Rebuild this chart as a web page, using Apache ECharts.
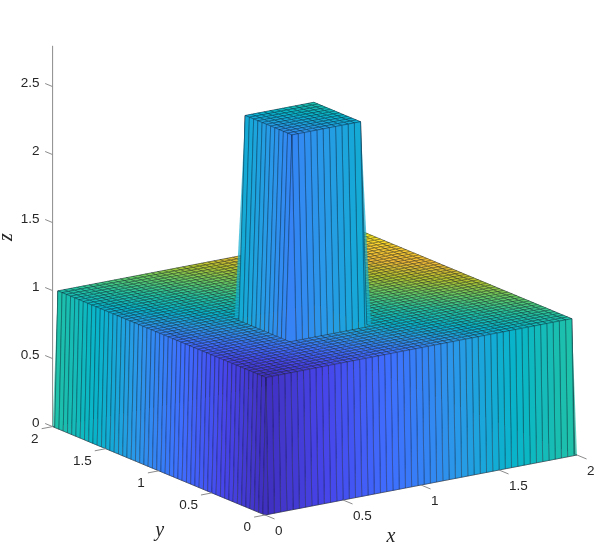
<!DOCTYPE html>
<html>
<head>
<meta charset="utf-8">
<title>surface</title>
<script src="https://cdn.jsdelivr.net/npm/echarts@6/dist/echarts.min.js"></script>
<style>
  html, body { margin: 0; padding: 0; background: #fff; }
  #main { width: 598px; height: 545px; }
</style>
</head>
<body>
<div id="main"></div>
<script>
// mesh nodes, same along x and y
var xNodes = [0, 0.02, 0.06, 0.1, 0.14, 0.18, 0.22, 0.26, 0.3, 0.34, 0.38, 0.42, 0.46, 0.5,
  0.54, 0.58, 0.62, 0.66, 0.7, 0.74, 0.78, 0.82, 0.86, 0.9, 0.94, 0.98,
  1.02, 1.06, 1.1, 1.14, 1.18, 1.22, 1.26, 1.3, 1.34, 1.38, 1.42, 1.46, 1.5, 1.54, 1.58, 1.62,
  1.66, 1.7, 1.74, 1.78, 1.82, 1.86, 1.9, 1.94, 1.98, 2];
var yNodes = xNodes;

// heights as runs of [value, count], one list per kind of row
var edgeRow = [[0, 52]];
var plainRow = [[0, 1], [1, 50], [0, 1]];
var towerRow = [[0, 1], [1, 13], [2.5, 12], [1, 25], [0, 1]];
// rows along y as [row, count]
var zRows = [[edgeRow, 1], [plainRow, 13], [towerRow, 12], [plainRow, 25], [edgeRow, 1]];

// colour level read at x,y = 0, 0.5, 1, 1.5, 2
var colorLevels = [
  [0.00, 0.13, 0.25, 0.38, 0.49],
  [0.13, 0.25, 0.38, 0.50, 0.62],
  [0.25, 0.38, 0.50, 0.63, 0.75],
  [0.38, 0.50, 0.63, 0.75, 0.88],
  [0.49, 0.62, 0.75, 0.88, 1.00]
];
var parula = ['#4030c0', '#4746eb', '#3e6ffe', '#2b97ea', '#08b5ca', '#25c4a0', '#66cc66',
  '#b4c42f', '#f0ba36', '#fcd030', '#f9fb15'];

var xTicks = [0, 0.5, 1, 1.5, 2];
var yTicks = [0, 0.5, 1, 1.5, 2];
var zTicks = [0, 0.5, 1, 1.5, 2, 2.5];
var xLabels = ['0', '0.5', '1', '1.5', '2'];
var yLabels = ['0', '0.5', '1', '1.5', '2'];
var zLabels = ['0', '0.5', '1', '1.5', '2', '2.5'];
var zMax = 2.8;

// orthographic view, pixels per data unit
var view = { ox: 265, oy: 515, xx: 156, xy: -30, yx: -106.2, yy: -44.2, zy: -136 };

function project(x, y, z) {
  return [
    view.ox + x * view.xx + y * view.yx,
    view.oy + x * view.xy + y * view.yy + z * view.zy
  ];
}

function expandRuns(runs) {
  var out = [];
  runs.forEach(function (r) {
    for (var k = 0; k < r[1]; k++) out.push(r[0]);
  });
  return out;
}

var zGrid = [];
zRows.forEach(function (r) {
  for (var k = 0; k < r[1]; k++) zGrid.push(expandRuns(r[0]));
});

function colorLevel(x, y) {
  var u = Math.min(x / 0.5, 3.999), v = Math.min(y / 0.5, 3.999);
  var a = Math.floor(u), b = Math.floor(v);
  var s = u - a, t = v - b;
  return (colorLevels[b][a] * (1 - s) + colorLevels[b][a + 1] * s) * (1 - t) +
    (colorLevels[b + 1][a] * (1 - s) + colorLevels[b + 1][a + 1] * s) * t;
}

// back faces first so the front ones paint over them
var faces = [];
for (var j = yNodes.length - 2; j >= 0; j--) {
  for (var i = xNodes.length - 2; i >= 0; i--) {
    faces.push([i, j, colorLevel(xNodes[i], yNodes[j])]);
  }
}

function renderFace(params, api) {
  var i = api.value(0), j = api.value(1);
  var corners = [[i, j], [i + 1, j], [i + 1, j + 1], [i, j + 1]];
  var points = corners.map(function (c) {
    return api.coord(project(xNodes[c[0]], yNodes[c[1]], zGrid[c[1]][c[0]]));
  });
  var color = api.visual('color');
  return {
    type: 'group',
    silent: true,
    children: [
      // folded cells at the tower corners show this as a pale fringe
      {
        type: 'polygon',
        shape: { points: [points[1], points[2], points[3]] },
        style: { fill: color, opacity: 0.7 }
      },
      {
        type: 'polygon',
        shape: { points: points },
        style: { fill: color, stroke: 'rgba(10,20,40,0.65)', lineWidth: 0.55 }
      }
    ]
  };
}

// axis lines, ticks and labels
var axisColor = '#8c8c8c';
var textColor = '#262626';
var tickFont = '13.5px "Liberation Sans", Arial, sans-serif';
var nameFont = 'italic 20px "Liberation Serif", serif';
var axisItems = [];

xTicks.forEach(function (t, k) {
  axisItems.push({ at: project(t, 0, 0), tick: project(t, -0.09, 0), text: xLabels[k], dx: 10, dy: 16, align: 'left' });
});
yTicks.forEach(function (t, k) {
  axisItems.push({ at: project(0, t, 0), tick: project(-0.07, t, 0), text: yLabels[k], dx: -14, dy: 12.5, align: 'right' });
});
zTicks.forEach(function (t, k) {
  axisItems.push({ at: project(0, 2, t), tick: project(0, 2.07, t), text: zLabels[k], dx: -13, dy: -3.5, align: 'right' });
});

var axisLines = [
  [project(0, 0, 0), project(2, 0, 0)],
  [project(0, 0, 0), project(0, 2, 0)],
  [project(0, 2, 0), project(0, 2, zMax)]
];

var axisNames = [
  { at: project(1, 0, 0), text: 'x', dx: -30, dy: 52, rotation: 0 },
  { at: project(0, 1, 0), text: 'y', dx: 1, dy: 60, rotation: 0 },
  { at: project(0, 2, 1.4), text: 'z', dx: -46, dy: 1, rotation: Math.PI / 2 }
];

function renderTick(params, api) {
  var it = axisItems[params.dataIndex];
  var a = api.coord(it.at), b = api.coord(it.tick);
  return {
    type: 'group',
    silent: true,
    children: [
      {
        type: 'line',
        shape: { x1: a[0], y1: a[1], x2: b[0], y2: b[1] },
        style: { stroke: axisColor, lineWidth: 1 }
      },
      {
        type: 'text',
        style: {
          x: a[0] + it.dx, y: a[1] + it.dy, text: it.text, font: tickFont, fill: textColor,
          align: it.align, verticalAlign: 'middle'
        }
      }
    ]
  };
}

function renderAxisLine(params, api) {
  var l = axisLines[params.dataIndex];
  var a = api.coord(l[0]), b = api.coord(l[1]);
  return {
    type: 'line',
    silent: true,
    shape: { x1: a[0], y1: a[1], x2: b[0], y2: b[1] },
    style: { stroke: axisColor, lineWidth: 1 }
  };
}

function renderName(params, api) {
  var n = axisNames[params.dataIndex];
  var a = api.coord(n.at);
  return {
    type: 'text',
    silent: true,
    x: a[0] + n.dx,
    y: a[1] + n.dy,
    rotation: n.rotation,
    style: { x: 0, y: 0, text: n.text, font: nameFont, fill: textColor, align: 'center', verticalAlign: 'middle' }
  };
}

var myChart = echarts.init(document.getElementById('main'));
myChart.setOption({
  animation: false,
  backgroundColor: '#fff',
  grid: { left: 0, right: 0, top: 0, bottom: 0 },
  xAxis: { type: 'value', min: 0, max: 598, show: false },
  yAxis: { type: 'value', min: 0, max: 545, inverse: true, show: false },
  visualMap: {
    show: false,
    type: 'continuous',
    seriesIndex: 1,
    dimension: 2,
    min: 0,
    max: 1,
    inRange: { color: parula }
  },
  series: [
    {
      type: 'custom',
      coordinateSystem: 'cartesian2d',
      renderItem: renderAxisLine,
      data: axisLines.map(function (l, k) { return [k]; }),
      encode: { x: 0, y: 0 },
      clip: false,
      z: 1
    },
    {
      type: 'custom',
      coordinateSystem: 'cartesian2d',
      renderItem: renderFace,
      data: faces,
      dimensions: ['i', 'j', 'level'],
      encode: { x: 0, y: 1 },
      progressive: 0,
      clip: false,
      z: 2
    },
    {
      type: 'custom',
      coordinateSystem: 'cartesian2d',
      renderItem: renderTick,
      data: axisItems.map(function (it, k) { return [k]; }),
      encode: { x: 0, y: 0 },
      clip: false,
      z: 3
    },
    {
      type: 'custom',
      coordinateSystem: 'cartesian2d',
      renderItem: renderName,
      data: axisNames.map(function (n, k) { return [k]; }),
      encode: { x: 0, y: 0 },
      clip: false,
      z: 3
    }
  ]
});
</script>
</body>
</html>
